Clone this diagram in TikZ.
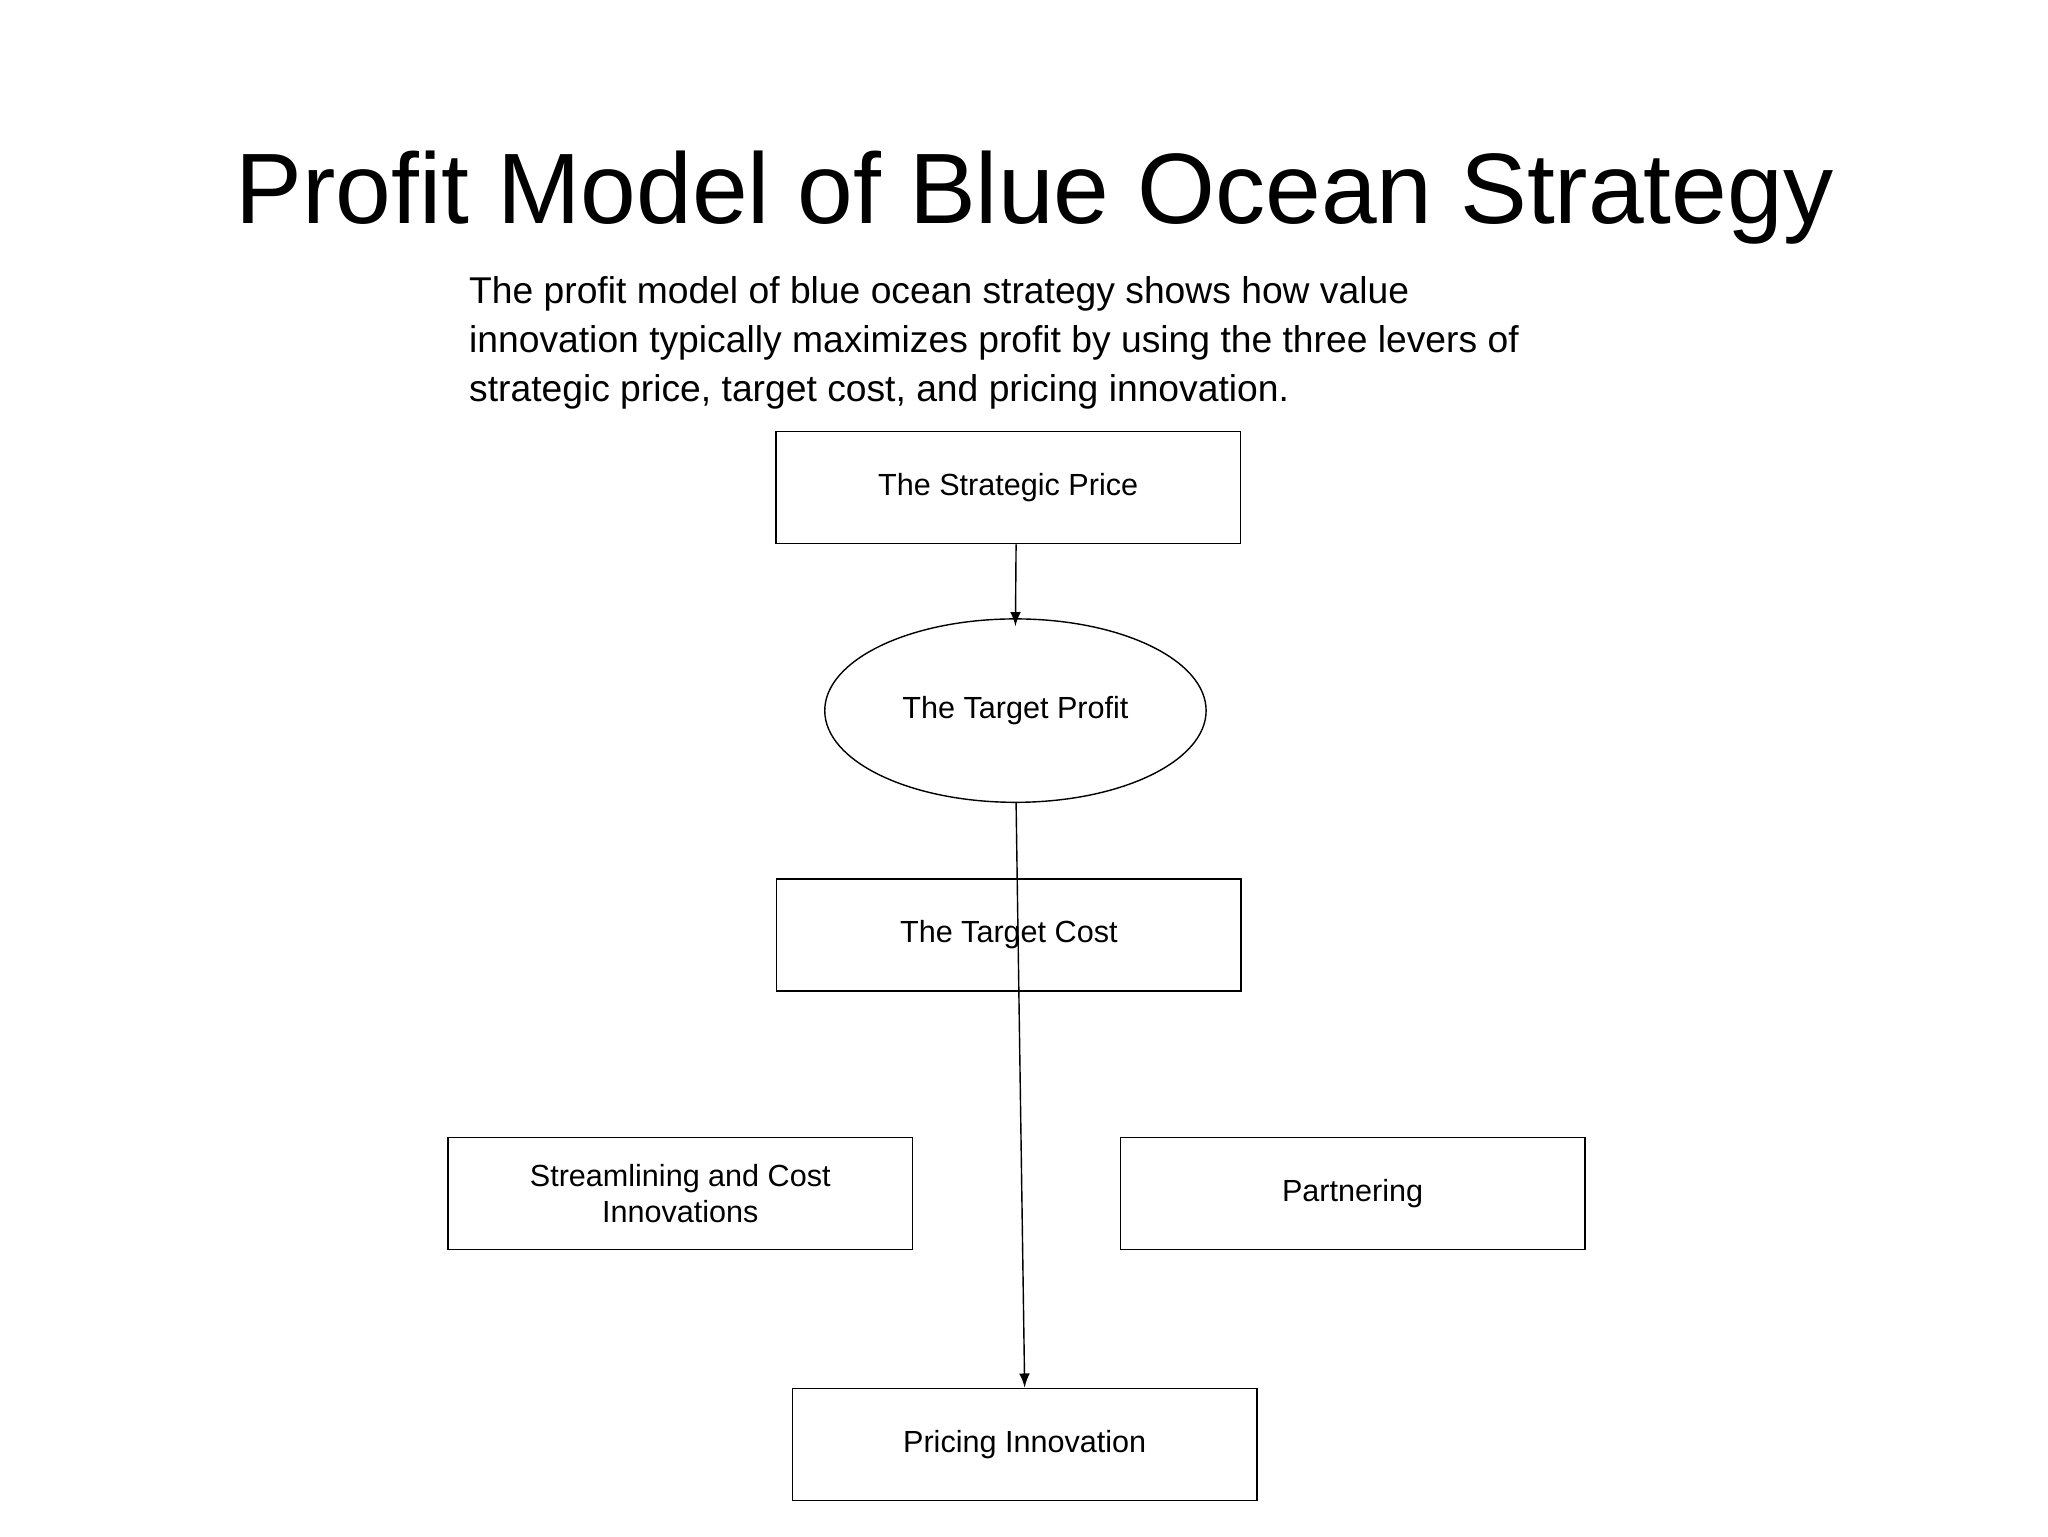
\documentclass[tikz,border=0pt]{standalone}
\usepackage{fontspec}
\setmainfont{Liberation Sans}
\usetikzlibrary{shapes.geometric,calc}
\begin{document}
\begin{tikzpicture}[x=0.0132cm,y=-0.0132cm,>=latex]
  \useasboundingbox (0,0) rectangle (1552,1164);
  \tikzset{box/.style={draw,minimum width=352*0.0132cm,minimum height=85*0.0132cm,inner sep=0pt,font=\fontsize{8.7}{10.5}\selectfont,align=center}}
  \node(title) at (784,150) {\fontsize{28.5}{34}\selectfont Profit Model of Blue Ocean Strategy};
  \node(intro)[anchor=north west,inner sep=0pt,align=left,font=\fontsize{10.6}{13.9}\selectfont] at (355,209)
    {The profit model of blue ocean strategy shows how value\\innovation typically maximizes profit by using the three levers of\\strategic price, target cost, and pricing innovation.};
  \node(price)[box] at (764,369.5) {The Strategic Price};
  \node(profit)[draw,ellipse,minimum width=289*0.0132cm,minimum height=139*0.0132cm,inner sep=0pt,font=\fontsize{8.7}{10.5}\selectfont] at (769.5,538.5) {The Target Profit};
  \node(cost)[box] at (764.5,708.5) {The Target Cost};
  \node(stream)[box] at (515.5,904.5) {Streamlining and Cost\\Innovations};
  \node(partner)[box] at (1025,904.5) {Partnering};
  \node(pricing)[box] at (776.5,1094.5) {Pricing Innovation};
  \coordinate(split) at (770,804);
  \coordinate(join) at (770,1000);
  \draw [->] (price.south -| 770,0) -- ($(profit.north)+(0,6)$);
  \draw [->] (profit.south -| 770,0) -- ($(pricing.north)!1!(pricing.north)$) ;
\end{tikzpicture}
\end{document}
